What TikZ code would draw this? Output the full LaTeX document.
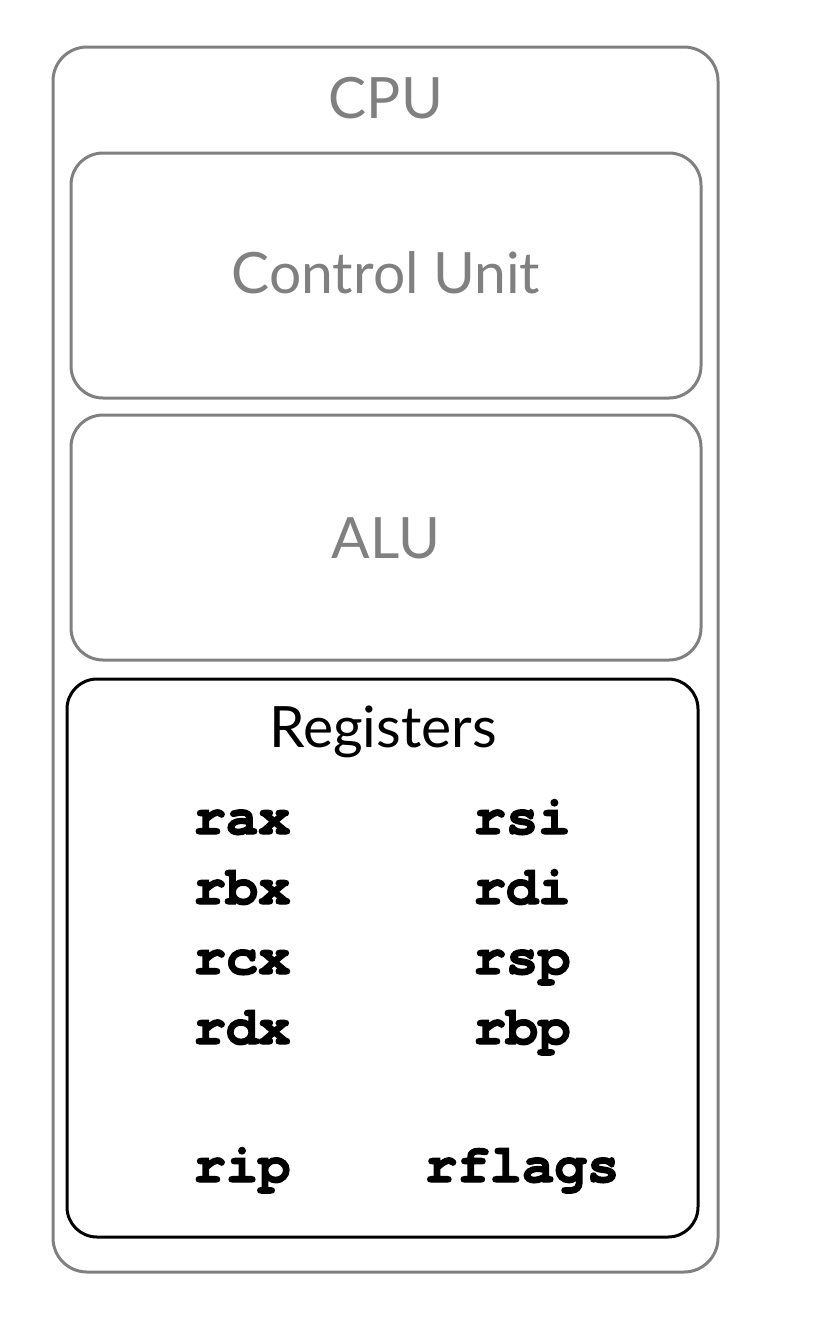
\documentclass[tikz,border=0pt]{standalone}
\usepackage{fontspec}
\newfontfamily\labelfont{Lato}
\newfontfamily\regfont[Ligatures=NoCommon, FakeBold=2.5]{texgyrecursor-bold.otf}
\definecolor{boxgray}{HTML}{808080}
\tikzset{
  unitbox/.style={draw=boxgray, line width=1.5pt, rounded corners=16pt,
                  inner sep=0pt, minimum width=315pt},
  unitlabel/.style={anchor=base, text=boxgray, font=\labelfont\fontsize{28.5}{30}\selectfont},
  reg/.style={anchor=base, font=\regfont\fontsize{27}{30}\selectfont}
}
\begin{document}
\begin{tikzpicture}[x=0.5pt,y=-0.5pt]
\useasboundingbox (0,0) rectangle (822,1330);

\node[unitbox, minimum width=332.5pt, minimum height=612.5pt, rounded corners=17pt] (cpu) at (385.5,659.5) {};
\node[unitbox, minimum height=122.5pt] (cu) at (386,275.5) {};
\node[unitbox, minimum height=122.5pt] (alu) at (386,537.5) {};
\node[unitbox, draw=black, minimum width=315.5pt, minimum height=279pt, rounded corners=15pt] (regs) at (382.5,958) {};

\node[unitlabel] (cpulbl) at (386,118) {CPU};
\node[unitlabel] (culbl) at (386,293) {Control Unit};
\node[unitlabel] (alulbl) at (386,558) {ALU};
\node[unitlabel, text=black] (regslbl) at (383,747) {Registers};

\node[reg] (rax) at (242,834) {rax};
\node[reg] (rbx) at (242,904) {rbx};
\node[reg] (rcx) at (242,974) {rcx};
\node[reg] (rdx) at (242,1044) {rdx};
\node[reg] (rip) at (242,1182) {rip};
\node[reg] (rsi) at (522,834) {rsi};
\node[reg] (rdi) at (522,904) {rdi};
\node[reg] (rsp) at (522,974) {rsp};
\node[reg] (rbp) at (522,1044) {rbp};
\node[reg] (rflags) at (522,1182) {rflags};

\end{tikzpicture}
\end{document}
